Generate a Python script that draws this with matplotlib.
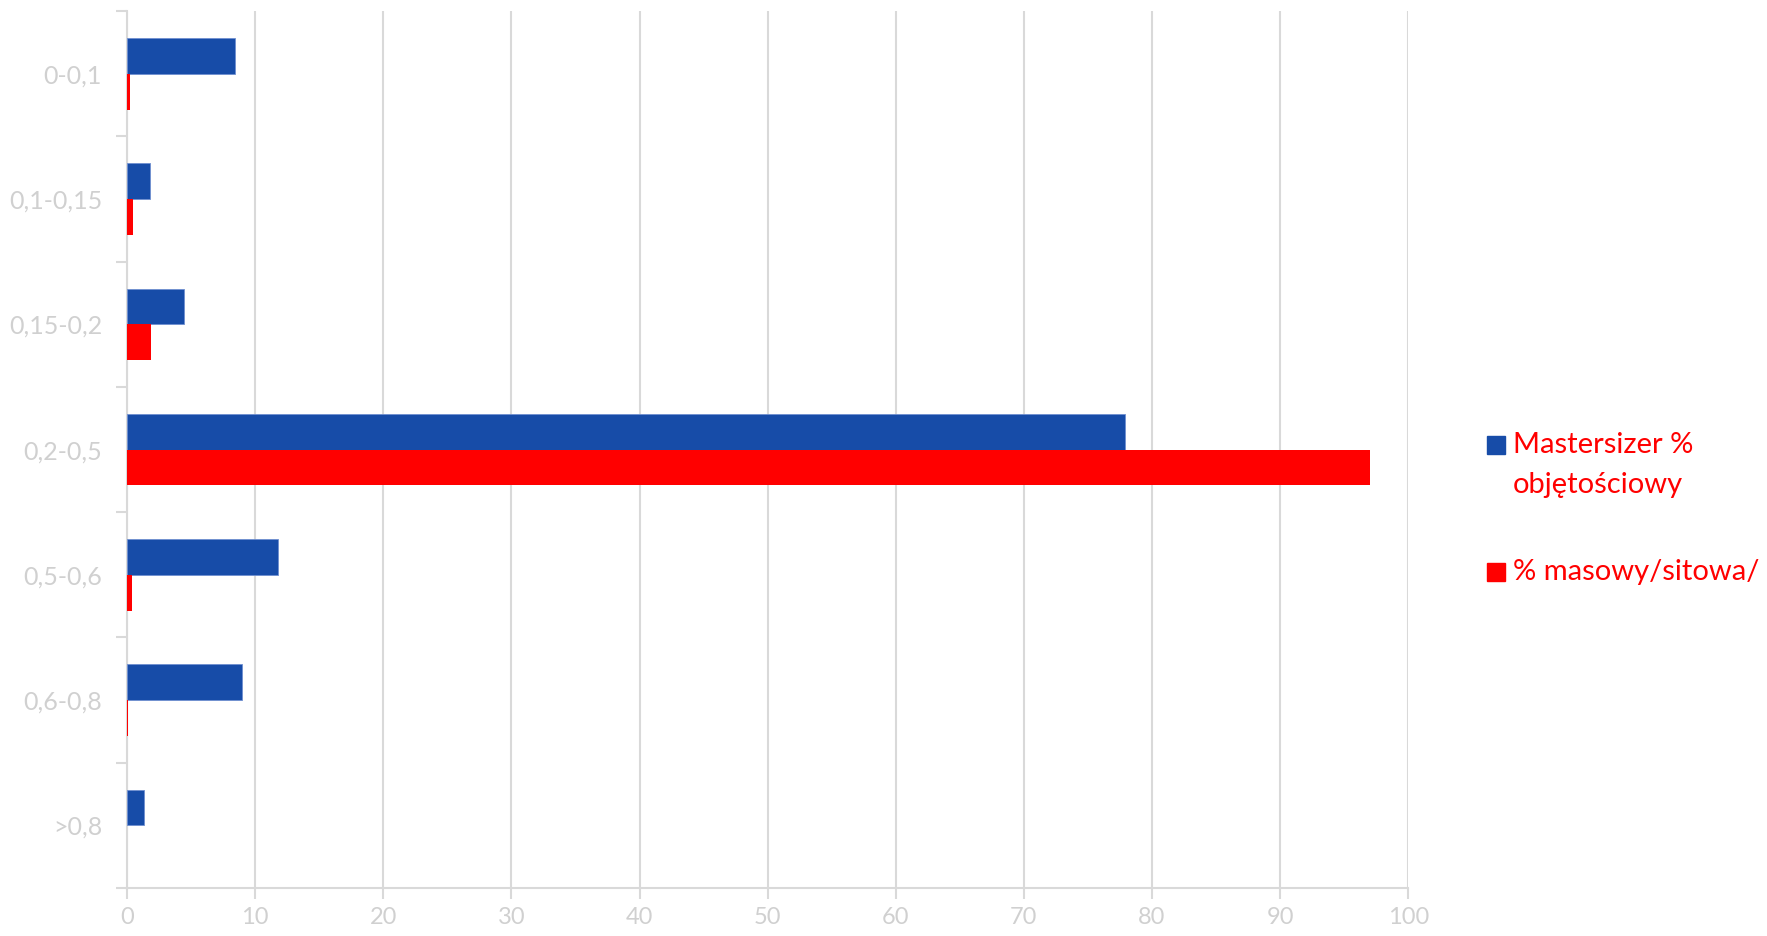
import numpy as np
import matplotlib.pyplot as plt
from matplotlib.patches import Rectangle

# frakcje (mm)
categories = ['0-0,1', '0,1-0,15', '0,15-0,2', '0,2-0,5', '0,5-0,6', '0,6-0,8', '>0,8']
mastersizer = [8.4, 1.8, 4.45, 77.9, 11.8, 9.0, 1.3]
sitowa = [0.2, 0.5, 1.9, 97.0, 0.35, 0.05, 0.0]
labels = ['Mastersizer %\nobjętościowy', '% masowy/sitowa/']
xticks = list(range(0, 101, 10))

blue = '#174CA8'
red = '#FF0000'
grey = '#D9D9D9'
tick_col = '#D0D0D0'

plt.rcParams['font.family'] = ['Lato', 'DejaVu Sans']

fig = plt.figure(figsize=(17.67, 9.36), dpi=100)
ax = fig.add_axes([0.0719, 0.0513, 0.7251, 0.9367])

y = np.arange(len(categories))
h = 0.285
ax.barh(y - h / 2, mastersizer, height=h, color=blue, edgecolor='#6F8FD0', linewidth=0.6, zorder=3)
ax.barh(y + h / 2, sitowa, height=h, color=red, zorder=3)

ax.set_ylim(len(categories) - 0.5, -0.5)
ax.set_xlim(0, 100)
ax.set_yticks(y)
ax.set_yticklabels(categories, va='center_baseline')
ax.set_yticks(np.arange(len(categories) + 1) - 0.5, minor=True)
ax.tick_params(axis='y', which='major', length=0, pad=18, labelsize=18, labelcolor=tick_col)
ax.tick_params(axis='y', which='minor', length=8, width=1.5, color=grey)
ax.set_xticks(xticks)
ax.tick_params(axis='x', length=8, width=1.5, color=grey, labelsize=17, labelcolor=tick_col, pad=6)
ax.grid(axis='x', color=grey, linewidth=1.5, zorder=0)

for s in ['top', 'right']:
    ax.spines[s].set_visible(False)
for s in ['left', 'bottom']:
    ax.spines[s].set_color(grey)
    ax.spines[s].set_linewidth(1.5)

# legenda
W, H = 1767, 936
for lab, col, yc in zip(labels, [blue, red], [445, 572]):
    fig.add_artist(Rectangle((1487 / W, 1 - (yc + 9) / H), 18 / W, 18 / H,
                             transform=fig.transFigure, color=col))
    for k, line in enumerate(lab.split('\n')):
        fig.text(1513 / W, 1 - (yc + 40 * k) / H, line, color=red, fontsize=21,
                 va='center', ha='left')

fig.savefig('out.png', dpi=100)
